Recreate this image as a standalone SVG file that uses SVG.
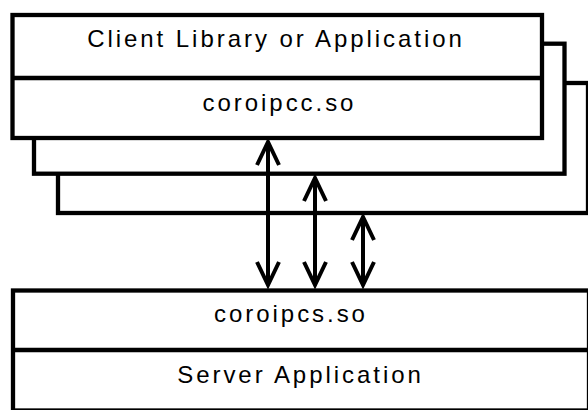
<svg xmlns="http://www.w3.org/2000/svg" width="588" height="410" viewBox="0 0 588 410">
  <style>
    .box { fill: #ffffff; stroke: #000000; stroke-width: 4.3; }
    .div { stroke: #000000; stroke-width: 4.3; fill: none; }
    .lbl { font-family: "Liberation Sans", Arial, sans-serif; font-size: 24px; letter-spacing: 2.95px; text-anchor: middle; fill: #000000; }
    .conn { stroke: #000000; stroke-width: 4; fill: none; }
  </style>
  <defs>
    <marker id="vhead" markerUnits="userSpaceOnUse" viewBox="-30 -15 34 30" refX="0" refY="0" markerWidth="34" markerHeight="30" orient="auto-start-reverse">
      <path d="M-23,-11 L0,0 L-23,11" fill="none" stroke="#000000" stroke-width="4" stroke-linejoin="miter"/>
    </marker>
  </defs>
  <rect width="588" height="410" fill="#ffffff"/>

  <g id="client-instance-3">
    <rect class="box" x="58" y="83" width="530" height="130"/>
  </g>
  <g id="client-instance-2">
    <rect class="box" x="34" y="43.7" width="530.5" height="130"/>
  </g>
  <g id="client">
    <rect class="box" x="12.5" y="15" width="529.5" height="123"/>
    <line class="div" x1="12.5" y1="78" x2="542" y2="78"/>
    <text class="lbl" x="276" y="46.5">Client Library or Application</text>
    <text class="lbl" x="279.5" y="111">coroipcc.so</text>
  </g>

  <g id="server">
    <rect class="box" x="13" y="290.5" width="576" height="120"/>
    <line class="div" x1="13" y1="350" x2="589" y2="350"/>
    <text class="lbl" x="291" y="322">coroipcs.so</text>
    <text class="lbl" x="300.5" y="383">Server Application</text>
  </g>

  <g id="connectors">
    <line class="conn" x1="268" y1="142" x2="268" y2="285" marker-start="url(#vhead)" marker-end="url(#vhead)"/>
    <line class="conn" x1="315" y1="178" x2="315" y2="285" marker-start="url(#vhead)" marker-end="url(#vhead)"/>
    <line class="conn" x1="363" y1="217" x2="363" y2="285" marker-start="url(#vhead)" marker-end="url(#vhead)"/>
  </g>
</svg>
